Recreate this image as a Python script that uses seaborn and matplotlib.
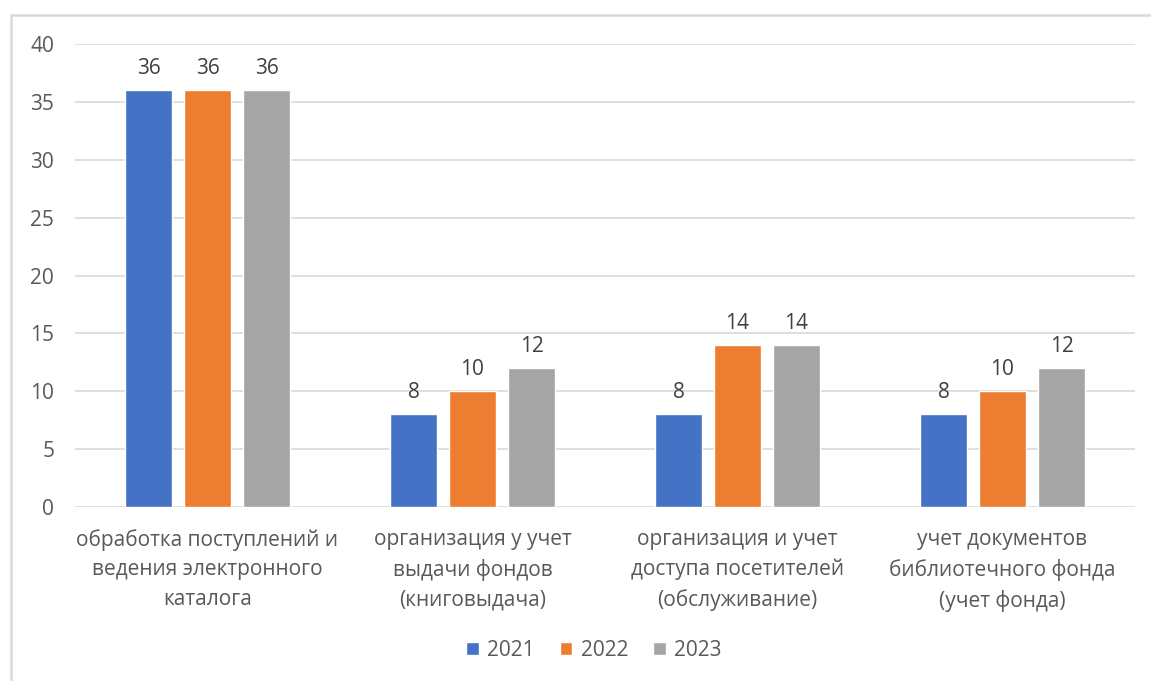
import matplotlib
matplotlib.use("Agg")
import matplotlib.pyplot as plt
import seaborn as sns
import pandas as pd
from matplotlib.patches import Rectangle

categories = [
    "обработка поступлений и\nведения электронного\nкаталога",
    "организация у учет\nвыдачи фондов\n(книговыдача)",
    "организация и учет\nдоступа посетителей\n(обслуживание)",
    "учет документов\nбиблиотечного фонда\n(учет фонда)",
]
years = ["2021", "2022", "2023"]
values_2021 = [36, 8, 8, 8]
values_2022 = [36, 10, 14, 10]
values_2023 = [36, 12, 14, 12]
colors = ["#4472C4", "#ED7D31", "#A5A5A5"]

rows = []
for y, vals in zip(years, [values_2021, values_2022, values_2023]):
    for c, v in zip(categories, vals):
        rows.append({"cat": c, "year": y, "val": v})
df = pd.DataFrame(rows)

sns.set_theme(style="white")
plt.rcParams["font.family"] = ["Open Sans", "DejaVu Sans"]

W, H = 1151, 681
FS = 15
fig = plt.figure(figsize=(W / 100, H / 100), dpi=100)
ax = fig.add_axes([75 / W, 1 - 507 / H, (1135 - 75) / W, (507 - 44) / H])

sns.barplot(data=df, x="cat", y="val", hue="year", palette=colors,
            width=0.668, gap=0.2, ax=ax, saturation=1, legend=True)

ax.set_ylim(0, 40)
ax.set_xlim(-0.5, 3.5)
ax.set_yticks(range(0, 41, 5))
ax.yaxis.grid(True, color="#D9D9D9", lw=1.2)
ax.set_axisbelow(True)
for s in ax.spines.values():
    s.set_visible(False)
ax.tick_params(axis="y", length=0, pad=15, labelsize=FS, labelcolor="#595959")
ax.tick_params(axis="x", length=0, pad=16, labelsize=FS, labelcolor="#595959")
for t in ax.get_xticklabels():
    t.set_linespacing(1.52)
ax.set_xlabel("")
ax.set_ylabel("")

for cont in ax.containers:
    ax.bar_label(cont, padding=8, fontsize=FS, color="#404040")

leg = ax.legend(loc="center", bbox_to_anchor=(594 / W, 1 - 650 / H),
                bbox_transform=fig.transFigure, ncol=3, frameon=False,
                fontsize=FS, handlelength=0.6, handleheight=0.6,
                handletextpad=0.4, columnspacing=1.2)
for t in leg.get_texts():
    t.set_color("#595959")

fig.patches.append(Rectangle((11 / W, -0.05), 1.1, 1 - 15 / H + 0.05,
                             transform=fig.transFigure, fill=False,
                             edgecolor="#D9D9D9", lw=1.8, zorder=0))

fig.savefig("out.png", dpi=100)
